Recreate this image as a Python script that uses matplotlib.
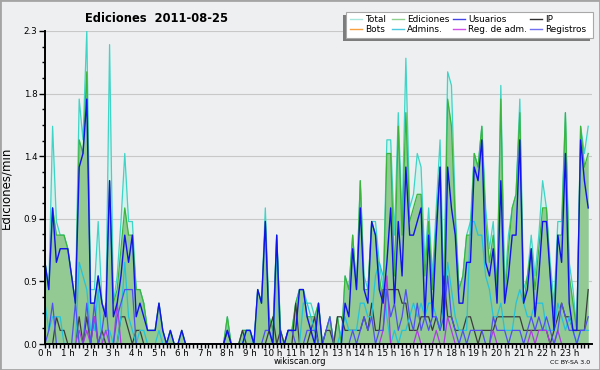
import numpy as np
import matplotlib
matplotlib.use('Agg')
import matplotlib.pyplot as plt
from matplotlib.patches import Rectangle
from matplotlib.lines import Line2D

# edits per minute, 10-minute bins (0h00 .. 23h50)
total = [0.6, 0.4, 1.6, 0.9, 0.8, 0.8, 0.7, 0.5, 0.3, 1.8, 1.5, 2.3,
         0.4, 0.4, 0.9, 0.3, 0.2, 2.2, 0.3, 0.5, 0.9, 1.4, 0.9, 0.9,
         0.4, 0.4, 0.3, 0.1, 0.1, 0.1, 0.3, 0.1, 0.0, 0.1, 0.0, 0.0,
         0.1, 0.0, 0.0, 0.0, 0.0, 0.0, 0.0, 0.0, 0.0, 0.0, 0.0, 0.0,
         0.2, 0.0, 0.0, 0.0, 0.1, 0.1, 0.1, 0.0, 0.4, 0.3, 1.0, 0.2,
         0.1, 0.8, 0.1, 0.0, 0.1, 0.1, 0.3, 0.4, 0.4, 0.3, 0.3, 0.2,
         0.3, 0.0, 0.1, 0.2, 0.0, 0.2, 0.0, 0.5, 0.4, 0.8, 0.4, 1.2,
         0.5, 0.4, 0.9, 0.9, 0.6, 0.4, 1.5, 1.5, 0.8, 1.7, 0.9, 2.1,
         1.0, 1.1, 1.4, 1.3, 0.6, 1.0, 0.5, 1.0, 1.5, 0.4, 2.0, 1.9,
         1.0, 0.4, 0.5, 0.8, 0.9, 1.4, 1.3, 1.6, 1.0, 0.7, 0.9, 0.4,
         1.9, 0.4, 0.8, 1.0, 1.1, 1.8, 0.4, 0.5, 0.8, 0.5, 0.8, 1.2,
         1.0, 0.6, 0.3, 0.9, 0.9, 1.7, 0.6, 0.4, 0.1, 1.6, 1.4, 1.6]

ediciones = [0.6, 0.4, 1.0, 0.8, 0.8, 0.8, 0.7, 0.5, 0.3, 1.5, 1.4, 2.0,
             0.3, 0.3, 0.5, 0.3, 0.2, 1.2, 0.3, 0.4, 0.7, 1.0, 0.8, 0.8,
             0.4, 0.4, 0.3, 0.1, 0.1, 0.1, 0.3, 0.1, 0.0, 0.1, 0.0, 0.0,
             0.1, 0.0, 0.0, 0.0, 0.0, 0.0, 0.0, 0.0, 0.0, 0.0, 0.0, 0.0,
             0.2, 0.0, 0.0, 0.0, 0.1, 0.1, 0.1, 0.0, 0.4, 0.3, 0.9, 0.2,
             0.1, 0.8, 0.1, 0.0, 0.1, 0.1, 0.3, 0.4, 0.4, 0.2, 0.2, 0.2,
             0.3, 0.0, 0.1, 0.2, 0.0, 0.2, 0.0, 0.5, 0.4, 0.8, 0.4, 1.2,
             0.4, 0.4, 0.9, 0.8, 0.5, 0.3, 1.4, 1.4, 0.5, 1.6, 0.8, 1.7,
             0.9, 1.0, 1.1, 1.1, 0.5, 0.9, 0.4, 0.9, 1.3, 0.3, 1.8, 1.6,
             0.9, 0.4, 0.5, 0.8, 0.8, 1.4, 1.3, 1.6, 0.9, 0.6, 0.8, 0.4,
             1.8, 0.3, 0.7, 1.0, 1.1, 1.7, 0.3, 0.5, 0.7, 0.4, 0.7, 1.0,
             1.0, 0.5, 0.2, 0.8, 0.8, 1.7, 0.5, 0.3, 0.1, 1.6, 1.3, 1.4]

usuarios = [0.6, 0.4, 1.0, 0.6, 0.7, 0.7, 0.7, 0.5, 0.3, 1.3, 1.4, 1.8,
            0.3, 0.3, 0.5, 0.3, 0.2, 1.2, 0.2, 0.3, 0.5, 0.8, 0.6, 0.8,
            0.2, 0.3, 0.2, 0.1, 0.1, 0.1, 0.3, 0.1, 0.0, 0.1, 0.0, 0.0,
            0.1, 0.0, 0.0, 0.0, 0.0, 0.0, 0.0, 0.0, 0.0, 0.0, 0.0, 0.0,
            0.1, 0.0, 0.0, 0.0, 0.0, 0.1, 0.1, 0.0, 0.4, 0.3, 0.9, 0.1,
            0.0, 0.8, 0.0, 0.0, 0.1, 0.1, 0.1, 0.4, 0.4, 0.2, 0.1, 0.0,
            0.3, 0.0, 0.0, 0.0, 0.0, 0.0, 0.0, 0.3, 0.2, 0.7, 0.4, 1.0,
            0.4, 0.3, 0.9, 0.8, 0.4, 0.3, 0.6, 1.0, 0.3, 0.9, 0.5, 1.3,
            0.8, 0.8, 0.9, 1.0, 0.2, 0.8, 0.2, 0.8, 1.3, 0.1, 1.3, 1.0,
            0.8, 0.3, 0.3, 0.6, 0.6, 1.3, 1.2, 1.5, 0.6, 0.5, 0.7, 0.3,
            1.2, 0.3, 0.5, 0.8, 0.8, 1.5, 0.3, 0.4, 0.7, 0.2, 0.5, 0.9,
            0.9, 0.5, 0.1, 0.8, 0.6, 1.4, 0.3, 0.1, 0.1, 1.5, 1.2, 1.0]

ip = [0.0, 0.0, 0.0, 0.2, 0.1, 0.1, 0.0, 0.0, 0.0, 0.2, 0.0, 0.2,
      0.0, 0.2, 0.0, 0.1, 0.0, 0.0, 0.0, 0.0, 0.2, 0.2, 0.1, 0.0,
      0.1, 0.1, 0.0, 0.0, 0.0, 0.0, 0.0, 0.0, 0.0, 0.0, 0.0, 0.0,
      0.0, 0.0, 0.0, 0.0, 0.0, 0.0, 0.0, 0.0, 0.0, 0.0, 0.0, 0.0,
      0.1, 0.0, 0.0, 0.0, 0.1, 0.0, 0.0, 0.0, 0.0, 0.0, 0.0, 0.1,
      0.2, 0.0, 0.1, 0.0, 0.0, 0.0, 0.3, 0.0, 0.0, 0.0, 0.1, 0.2,
      0.0, 0.0, 0.1, 0.1, 0.0, 0.2, 0.2, 0.1, 0.1, 0.1, 0.1, 0.1,
      0.2, 0.1, 0.3, 0.1, 0.1, 0.4, 0.4, 0.4, 0.4, 0.4, 0.3, 0.3,
      0.1, 0.1, 0.1, 0.2, 0.2, 0.2, 0.1, 0.2, 0.1, 0.5, 0.2, 0.2,
      0.1, 0.1, 0.1, 0.2, 0.2, 0.1, 0.0, 0.1, 0.1, 0.1, 0.1, 0.2,
      0.2, 0.2, 0.2, 0.2, 0.2, 0.2, 0.1, 0.1, 0.1, 0.1, 0.1, 0.1,
      0.1, 0.0, 0.1, 0.2, 0.3, 0.2, 0.2, 0.1, 0.1, 0.1, 0.1, 0.4]

admins = [0.3, 0.1, 0.2, 0.2, 0.2, 0.0, 0.0, 0.0, 0.0, 0.6, 0.5, 0.4,
          0.1, 0.1, 0.4, 0.0, 0.1, 0.1, 0.0, 0.0, 0.2, 0.6, 0.2, 0.1,
          0.0, 0.1, 0.1, 0.0, 0.0, 0.0, 0.1, 0.0, 0.0, 0.0, 0.0, 0.0,
          0.0, 0.0, 0.0, 0.0, 0.0, 0.0, 0.0, 0.0, 0.0, 0.0, 0.0, 0.0,
          0.0, 0.0, 0.0, 0.0, 0.0, 0.1, 0.1, 0.0, 0.0, 0.0, 0.0, 0.0,
          0.0, 0.7, 0.0, 0.0, 0.0, 0.0, 0.0, 0.0, 0.3, 0.3, 0.2, 0.1,
          0.0, 0.0, 0.0, 0.0, 0.0, 0.0, 0.1, 0.2, 0.1, 0.1, 0.1, 0.3,
          0.3, 0.2, 0.2, 0.5, 0.6, 0.5, 0.2, 0.0, 0.1, 0.0, 0.1, 0.1,
          0.2, 0.3, 0.2, 0.3, 0.2, 0.3, 0.3, 0.2, 0.1, 0.3, 0.6, 0.4,
          0.2, 0.1, 0.1, 0.1, 0.9, 0.9, 0.8, 0.8, 0.5, 0.4, 0.2, 0.2,
          0.3, 0.1, 0.1, 0.1, 0.3, 0.4, 0.3, 0.2, 0.2, 0.3, 0.3, 0.3,
          0.1, 0.1, 0.1, 0.3, 0.2, 0.1, 0.2, 0.1, 0.0, 0.1, 0.1, 0.1]

reg_adm = [0.0, 0.0, 0.0, 0.0, 0.0, 0.0, 0.0, 0.0, 0.0, 0.1, 0.0, 0.1,
           0.0, 0.2, 0.0, 0.0, 0.1, 0.0, 0.0, 0.3, 0.0, 0.0, 0.0, 0.0,
           0.0, 0.0, 0.0, 0.0, 0.0, 0.0, 0.0, 0.0, 0.0, 0.0, 0.0, 0.0,
           0.0, 0.0, 0.0, 0.0, 0.0, 0.0, 0.0, 0.0, 0.0, 0.0, 0.0, 0.0,
           0.0, 0.0, 0.0, 0.0, 0.0, 0.0, 0.0, 0.0, 0.0, 0.0, 0.0, 0.0,
           0.0, 0.0, 0.0, 0.0, 0.0, 0.0, 0.0, 0.0, 0.0, 0.0, 0.0, 0.0,
           0.0, 0.0, 0.0, 0.0, 0.0, 0.0, 0.0, 0.0, 0.0, 0.0, 0.0, 0.0,
           0.0, 0.0, 0.0, 0.0, 0.0, 0.1, 0.5, 0.0, 0.0, 0.0, 0.0, 0.0,
           0.0, 0.0, 0.1, 0.0, 0.0, 0.0, 0.0, 0.1, 0.0, 0.0, 0.2, 0.1,
           0.0, 0.0, 0.0, 0.0, 0.0, 0.0, 0.0, 0.0, 0.0, 0.0, 0.1, 0.0,
           0.0, 0.0, 0.0, 0.0, 0.0, 0.0, 0.0, 0.0, 0.1, 0.0, 0.1, 0.1,
           0.1, 0.0, 0.0, 0.1, 0.0, 0.0, 0.0, 0.0, 0.0, 0.0, 0.0, 0.0]

registros = [0.0, 0.1, 0.3, 0.0, 0.0, 0.0, 0.0, 0.0, 0.3, 0.0, 0.0, 0.3,
             0.0, 0.3, 0.0, 0.1, 0.3, 0.0, 0.0, 0.2, 0.3, 0.4, 0.4, 0.4,
             0.0, 0.0, 0.0, 0.0, 0.0, 0.0, 0.0, 0.0, 0.0, 0.0, 0.0, 0.0,
             0.0, 0.0, 0.0, 0.0, 0.0, 0.0, 0.0, 0.0, 0.0, 0.0, 0.0, 0.0,
             0.0, 0.0, 0.0, 0.0, 0.0, 0.0, 0.0, 0.0, 0.0, 0.0, 0.1, 0.1,
             0.0, 0.0, 0.0, 0.0, 0.1, 0.1, 0.0, 0.0, 0.0, 0.1, 0.1, 0.1,
             0.0, 0.0, 0.1, 0.2, 0.0, 0.0, 0.0, 0.0, 0.0, 0.1, 0.0, 0.1,
             0.2, 0.1, 0.2, 0.0, 0.1, 0.1, 0.4, 0.2, 0.3, 0.1, 0.2, 0.4,
             0.2, 0.1, 0.3, 0.1, 0.2, 0.1, 0.2, 0.2, 0.1, 0.2, 0.5, 0.2,
             0.1, 0.0, 0.1, 0.0, 0.1, 0.1, 0.1, 0.1, 0.0, 0.0, 0.2, 0.1,
             0.1, 0.1, 0.0, 0.1, 0.1, 0.1, 0.0, 0.1, 0.2, 0.1, 0.2, 0.1,
             0.2, 0.1, 0.0, 0.1, 0.3, 0.2, 0.1, 0.1, 0.0, 0.1, 0.1, 0.2]

hour_labels = ['%d h' % h for h in range(24)]
legend_names = ['Total', 'Ediciones', 'Usuarios', 'IP',
                'Bots', 'Admins.', 'Reg. de adm.', 'Registros']
legend_colors = ['#a6e6dc', '#8ed08e', '#4444e6', '#303030',
                 '#f8a040', '#4cc8e0', '#d050e8', '#7070f0']

hours = np.arange(len(total)) / 6.0
bg = '#eeeff1'

fig = plt.figure(figsize=(6, 3.7), dpi=100, facecolor=bg)
ax = fig.add_axes([45 / 600, 26 / 370, 547 / 600, 313 / 370])
ax.set_facecolor(bg)

ax.fill_between(hours, 0, total, color='#d5f1eb', lw=0)
ax.fill_between(hours, 0, ediciones, color='#93c993', lw=0)
ax.plot(hours, total, color='#3ed4c6', lw=0.9)
ax.plot(hours, ediciones, color='#3cb43c', lw=0.9)
ax.plot(hours, ip, color='#3c3c3c', lw=0.9)
ax.plot(hours, admins, color='#22c4dc', lw=0.9)
ax.plot(hours, reg_adm, color='#b03ce0', lw=0.9)
ax.plot(hours, registros, color='#5050f0', lw=0.9)
ax.plot(hours, usuarios, color='#1212ea', lw=1.0)

ax.set_xlim(0, 24)
ax.set_ylim(0, 2.3)
yt = np.linspace(0, 2.3, 6)
ax.set_yticks(yt)
ax.set_yticklabels(['%.1f' % v for v in yt])
ax.set_yticks(np.linspace(0, 2.3, 21), minor=True)
ax.set_xticks(np.arange(24))
ax.set_xticklabels(hour_labels)
ax.set_xticks(np.arange(0, 24, 1 / 6.0), minor=True)
ax.grid(axis='y', which='major', color='#c8c8c8', lw=0.8)
ax.set_axisbelow(True)

for s in ['top', 'right']:
    ax.spines[s].set_visible(False)
for s in ['left', 'bottom']:
    ax.spines[s].set_linewidth(1.4)
    ax.spines[s].set_color('black')
ax.tick_params(axis='y', which='major', length=4, width=1, labelsize=6.3, pad=1.5, colors='black')
ax.tick_params(axis='y', which='minor', length=2.5, width=1)
ax.tick_params(axis='x', which='both', length=3, width=1, labelsize=6.3, pad=0.5)

ax.set_ylabel('Ediciones/min', fontsize=8.5)
ax.yaxis.set_label_coords(-0.06, 0.5)
fig.text(85 / 600, 1 - 18 / 370, 'Ediciones  2011-08-25', fontsize=8.3, fontweight='bold',
         ha='left', va='center')
fig.text(300 / 600, 1 - 361 / 370, 'wikiscan.org', fontsize=6, ha='center', va='center')
fig.text(590 / 600, 1 - 362 / 370, 'CC BY-SA 3.0', fontsize=4.5, ha='right', va='center')

# legend box with shadow, drawn by hand
def px(x, y):
    return x / 600, 1 - y / 370

fig.patches.append(Rectangle(px(343, 41), 247 / 600, 26 / 370, transform=fig.transFigure,
                             facecolor='#7c7c7c', edgecolor='none'))
fig.patches.append(Rectangle(px(346, 38), 247 / 600, 26 / 370, transform=fig.transFigure,
                             facecolor='white', edgecolor='#a8a8a8', lw=0.8))
col_x = [350, 392, 453, 530]
row_y = [19, 29]
for k, (name, c) in enumerate(zip(legend_names, legend_colors)):
    x0 = col_x[k % 4]
    y0 = row_y[k // 4]
    fig.lines.append(Line2D([x0 / 600, (x0 + 12) / 600], [1 - y0 / 370] * 2,
                            transform=fig.transFigure, color=c, lw=1))
    fig.text((x0 + 15) / 600, 1 - y0 / 370, name, fontsize=6.4, ha='left', va='center')

fig.patches.append(Rectangle((0, 0), 1, 1, transform=fig.transFigure, fill=False,
                             edgecolor='#a4a4a4', lw=2))

fig.savefig('out.png', dpi=100, facecolor=bg)
